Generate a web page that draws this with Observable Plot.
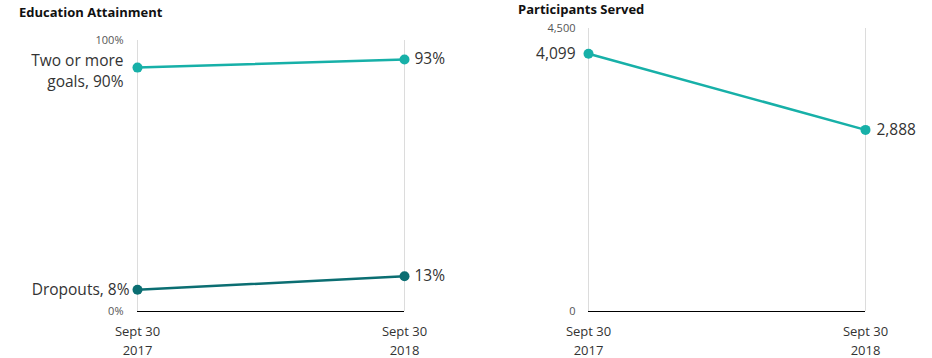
<!DOCTYPE html>
<html><head><meta charset="utf-8">
<script src="https://cdn.jsdelivr.net/npm/d3@7"></script>
<script src="https://cdn.jsdelivr.net/npm/@observablehq/plot@0.6"></script>
<style>
body{margin:0;background:#fff;font-family:"Open Sans",sans-serif;}
#wrap{position:relative;width:932px;height:358px;}
.panel{position:absolute;top:0;}
.title{position:absolute;font-weight:bold;font-size:13px;color:#111;white-space:nowrap;}
</style></head>
<body><div id="wrap">
<div class="title" style="left:19px;top:3px">Education Attainment</div>
<div class="title" style="left:518px;top:0px">Participants Served</div>
<div class="panel" id="p1" style="left:0"></div>
<div class="panel" id="p2" style="left:466px"></div>
</div>
<script>
const periods = ["Sept 30\n2017", "Sept 30\n2018"];
const goalsPct = [90, 93];
const dropoutsPct = [8, 13];
const participants = [4099, 2888];
const eduTicks = [0, 100];
const partTicks = [0, 4500];

const teal = "#17B0A8", darkTeal = "#0B6E72";
const font = "Open Sans";

const goals = periods.map((p,i)=>({p, v: goalsPct[i]}));
const drops = periods.map((p,i)=>({p, v: dropoutsPct[i]}));
const parts = periods.map((p,i)=>({p, v: participants[i]}));

const common = (w, ml, mr, mt, mb) => ({
  width: w, height: 358, marginLeft: ml, marginRight: mr, marginTop: mt, marginBottom: mb,
  style: {fontFamily: font, color: "#222", background: "transparent", overflow: "visible"}
});

const p1 = Plot.plot({
  ...common(466, 137, 62, 40, 47),
  x: {type: "point", domain: periods, padding: 0, label: null},
  y: {domain: [0, 100], label: null},
  marks: [
    Plot.ruleX(periods, {stroke: "#dcdcdc", strokeWidth: 1}),
    Plot.ruleY([0], {stroke: "#000", strokeWidth: 1.2}),
    Plot.axisY(eduTicks, {tickSize: 0, tickPadding: 14, fontSize: 11, fill: "#555", label: null, tickFormat: d => d + "%"}),
    Plot.axisX({tickSize: 0, tickPadding: 12, fontSize: 13, fill: "#333", lineHeight: 1.4, label: null}),
    Plot.line(goals, {x: "p", y: "v", stroke: teal, strokeWidth: 2.5}),
    Plot.dot(goals, {x: "p", y: "v", fill: teal, r: 5}),
    Plot.line(drops, {x: "p", y: "v", stroke: darkTeal, strokeWidth: 2.5}),
    Plot.dot(drops, {x: "p", y: "v", fill: darkTeal, r: 5}),
    Plot.text([goals[0]], {x: "p", y: "v", text: d => "Two or more\ngoals, " + d.v + "%", textAnchor: "end", dx: -14, dy: 2, fontSize: 15.5, fill: "#333", lineHeight: 1.4}),
    Plot.text([goals[1]], {x: "p", y: "v", text: d => d.v + "%", textAnchor: "start", dx: 10, fontSize: 15.5, fill: "#333"}),
    Plot.text([drops[0]], {x: "p", y: "v", text: d => "Dropouts, " + d.v + "%", textAnchor: "end", dx: -8, fontSize: 15.5, fill: "#333"}),
    Plot.text([drops[1]], {x: "p", y: "v", text: d => d.v + "%", textAnchor: "start", dx: 10, fontSize: 15.5, fill: "#333"})
  ]
});
document.getElementById("p1").append(p1);

const p2 = Plot.plot({
  ...common(466, 122, 67, 28, 47),
  x: {type: "point", domain: periods, padding: 0, label: null},
  y: {domain: [0, 4500], label: null},
  marks: [
    Plot.ruleX(periods, {stroke: "#dcdcdc", strokeWidth: 1}),
    Plot.ruleY([0], {stroke: "#000", strokeWidth: 1.2}),
    Plot.axisY(partTicks, {tickSize: 0, tickPadding: 13, fontSize: 11, fill: "#555", label: null, tickFormat: d3.format(",")}),
    Plot.axisX({tickSize: 0, tickPadding: 12, fontSize: 13, fill: "#333", lineHeight: 1.4, label: null}),
    Plot.line(parts, {x: "p", y: "v", stroke: teal, strokeWidth: 2.5}),
    Plot.dot(parts, {x: "p", y: "v", fill: teal, r: 5}),
    Plot.text([parts[0]], {x: "p", y: "v", text: d => d3.format(",")(d.v), textAnchor: "end", dx: -13, fontSize: 15.5, fill: "#333"}),
    Plot.text([parts[1]], {x: "p", y: "v", text: d => d3.format(",")(d.v), textAnchor: "start", dx: 11, fontSize: 15.5, fill: "#333"})
  ]
});
document.getElementById("p2").append(p2);
</script>
</body></html>
